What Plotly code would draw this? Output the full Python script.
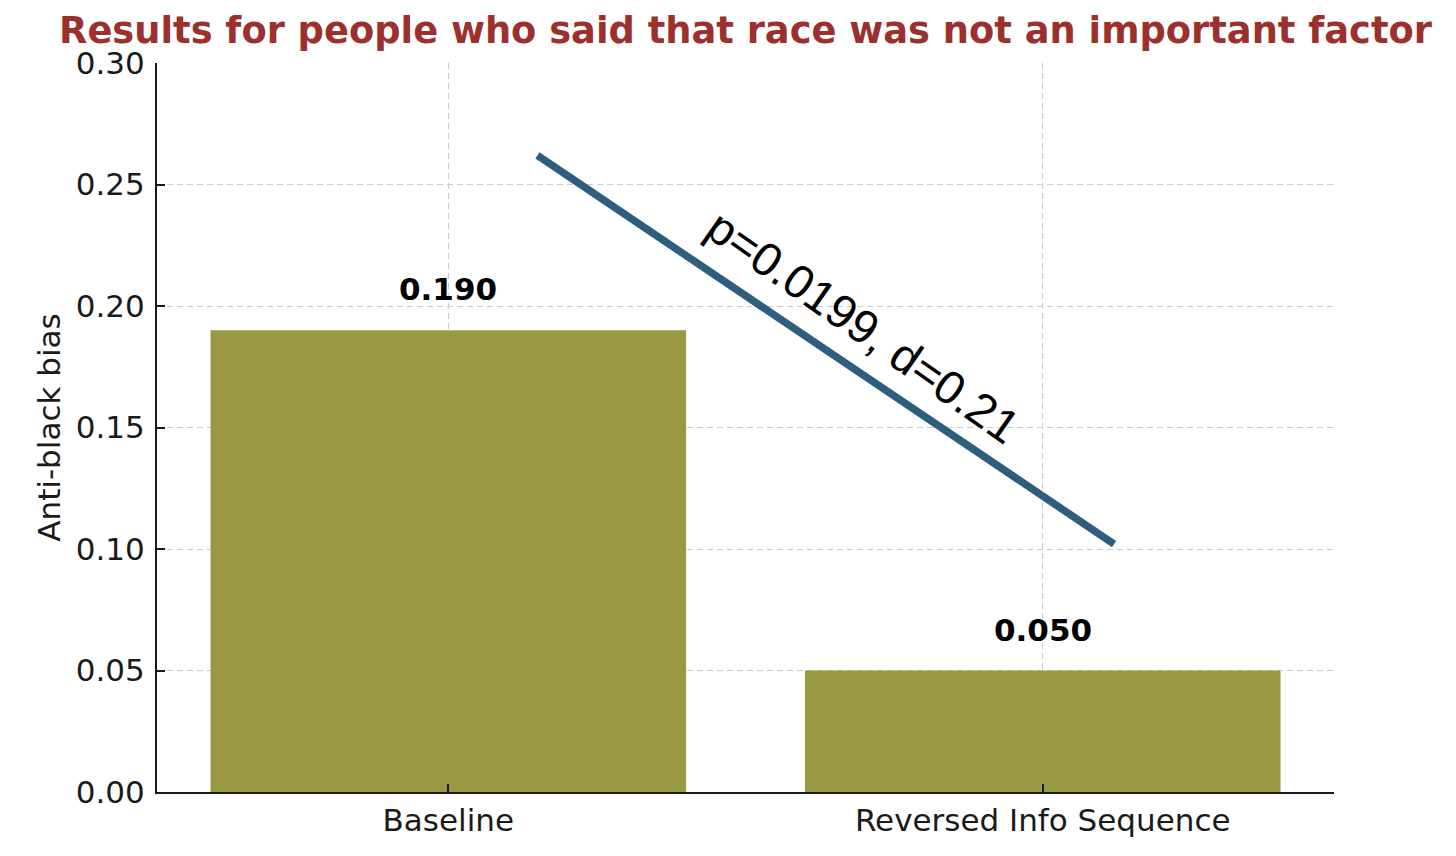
import plotly.graph_objects as go

# data
categories = ["Baseline", "Reversed Info Sequence"]
bias_values = [0.190, 0.050]
value_labels = ["0.190", "0.050"]

# significance line (drawn in data coords, like the original)
sig_x = [0.15, 1.12]
sig_y = [0.262, 0.102]
sig_text = "p=0.0199, d=0.21"
sig_pos = (0.698, 0.1915)

y_ticks = [0.00, 0.05, 0.10, 0.15, 0.20, 0.25, 0.30]

BAR_COLOR = "#9A9843"
LINE_COLOR = "#2E5E7E"
TITLE_COLOR = "#9B302C"
FONT = "DejaVu Sans"

# page body has an 8px margin, so the figure is 8px smaller
W, H = 1448, 848

fig = go.Figure()

fig.add_trace(go.Bar(
    x=[0, 1],
    y=bias_values,
    width=0.8,
    marker=dict(color=BAR_COLOR, line=dict(width=0)),
    hoverinfo="skip",
))

fig.add_trace(go.Scatter(
    x=sig_x,
    y=sig_y,
    mode="lines",
    line=dict(color=LINE_COLOR, width=7.5),
    hoverinfo="skip",
))

# value labels over the bars
for i, (v, lab) in enumerate(zip(bias_values, value_labels)):
    fig.add_annotation(
        x=i, y=v, text="<b>%s</b>" % lab, showarrow=False,
        yanchor="bottom", yshift=21,
        font=dict(family=FONT, size=31, color="black"),
    )

fig.add_annotation(
    x=sig_pos[0], y=sig_pos[1], text=sig_text, showarrow=False,
    textangle=35, xanchor="center", yanchor="middle",
    font=dict(family="Liberation Sans", size=47, color="black"),
)

grid = dict(showgrid=True, gridcolor="#cbcbcb", griddash="6px,4px", gridwidth=1.4)
axis_common = dict(
    showline=True, linecolor="#1a1a1a", linewidth=2.2,
    ticks="inside", ticklen=8, tickwidth=2, tickcolor="#1a1a1a",
    zeroline=False, tickfont=dict(size=31),
)

fig.update_layout(
    width=W,
    height=H,
    margin=dict(l=149, r=122, t=55, b=64),
    paper_bgcolor="white",
    plot_bgcolor="white",
    showlegend=False,
    font=dict(family=FONT, size=31, color="#1a1a1a"),
    title=dict(
        text="<b>Results for people who said that race was not an important factor</b>",
        x=0.5, xref="paper", xanchor="center",
        y=1 - 22 / H, yref="container", yanchor="middle",
        font=dict(family=FONT, size=36.8, color=TITLE_COLOR),
    ),
    xaxis=dict(
        range=[-0.49, 1.49],
        tickvals=[0, 1],
        ticktext=categories,
        **grid, **axis_common,
    ),
    yaxis=dict(
        range=[0, 0.3],
        tickvals=y_ticks,
        tickformat=".2f",
        ticklabelstandoff=4,
        title=dict(text="Anti-black bias", font=dict(size=31), standoff=6),
        **grid, **axis_common,
    ),
)

fig.write_html("out.html")
